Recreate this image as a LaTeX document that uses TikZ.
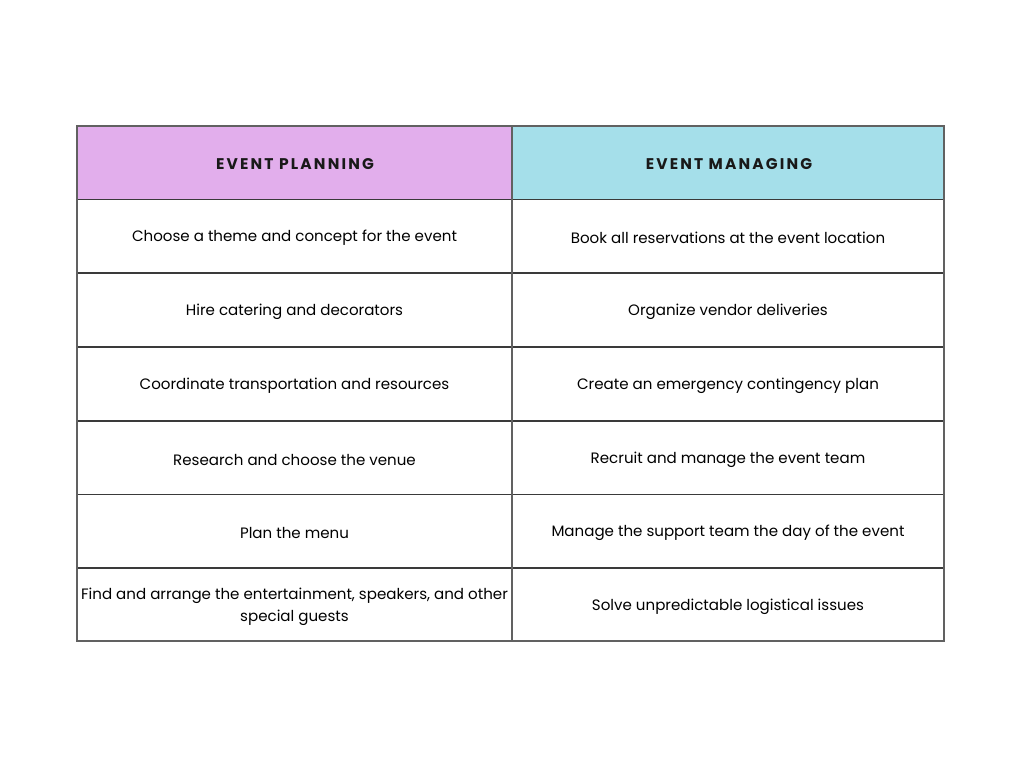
\documentclass[tikz,border=0pt]{standalone}
\usepackage{fontspec}
\setmainfont{Poppins}
\newfontfamily\headfont[LetterSpace=14]{Poppins}
\definecolor{plan}{HTML}{E2AEEC}
\definecolor{manage}{HTML}{A5DFEA}
\definecolor{gridc}{HTML}{3A3A3A}
\begin{document}
\begin{tikzpicture}[x=0.75pt,y=-0.75pt,
  cell/.style={font=\fontsize{11.3}{16.5}\selectfont, text=black, align=center},
  head/.style={font=\headfont\bfseries\fontsize{11.6}{13}\selectfont, text=black!90}]
\useasboundingbox (0,0) rectangle (1024,768);
\fill[white] (0,0) rectangle (1024,768);
\fill[plan] (77,126) rectangle (512,199.5);
\fill[manage] (512,126) rectangle (944,199.5);
\foreach \y in {199.5,273,347,421,494.5,568} \draw[gridc, line width=0.9pt] (77,\y) -- (944,\y);
\draw[gridc!80, line width=0.9pt] (512,126) -- (512,641);
\draw[gridc!80, line width=0.9pt] (77,126) rectangle (944,641);
\node[head] (h1) at (295,164) {EVENT PLANNING};
\node[head] (h2) at (729,164) {EVENT MANAGING};
\node[cell] (a1) at (294.5,238) {Choose a theme and concept for the event};
\node[cell] (a2) at (294.5,312) {Hire catering and decorators};
\node[cell] (a3) at (294.5,386) {Coordinate transportation and resources};
\node[cell] (a4) at (294.5,459.5) {Research and choose the venue};
\node[cell] (a5) at (294.5,533) {Plan the menu};
\node[cell] (a6) at (294.5,606.5) {Find and arrange the entertainment, speakers, and other\\special guests};
\node[cell] (b1) at (728,238) {Book all reservations at the event location};
\node[cell] (b2) at (728,312) {Organize vendor deliveries};
\node[cell] (b3) at (728,386) {Create an emergency contingency plan};
\node[cell] (b4) at (728,459.5) {Recruit and manage the event team};
\node[cell] (b5) at (728,533) {Manage the support team the day of the event};
\node[cell] (b6) at (728,606.5) {Solve unpredictable logistical issues};
\end{tikzpicture}
\end{document}
